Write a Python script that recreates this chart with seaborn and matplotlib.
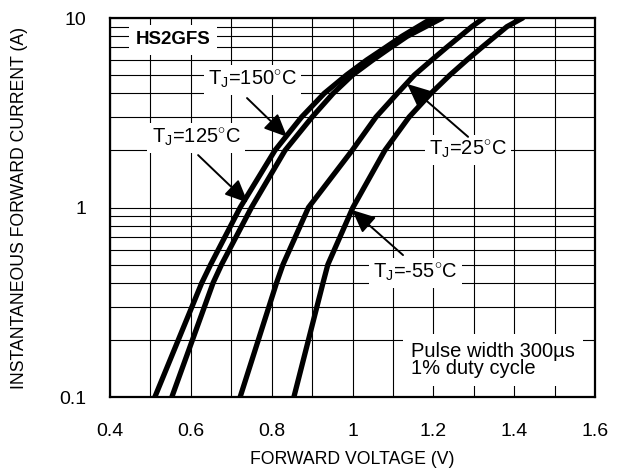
import pandas as pd
import seaborn as sns
import matplotlib.pyplot as plt
import matplotlib.ticker as mticker

# curve data (forward voltage in V, current in A)
v_150 = [0.511, 0.627, 0.649, 0.722, 0.808, 0.874, 0.930, 0.985, 1.035, 1.082, 1.122, 1.198]
i_150 = [0.1, 0.4, 0.5, 1, 2, 3, 4, 5, 6, 7, 8, 10]

v_125 = [0.553, 0.655, 0.676, 0.750, 0.833, 0.900, 0.952, 1.000, 1.050, 1.095, 1.135, 1.222]
i_125 = [0.1, 0.4, 0.5, 1, 2, 3, 4, 5, 6, 7, 8, 10]

v_25 = [0.722, 0.812, 0.828, 0.891, 0.999, 1.058, 1.111, 1.153, 1.196, 1.233, 1.266, 1.295, 1.325]
i_25 = [0.1, 0.4, 0.5, 1, 2, 3, 4, 5, 6, 7, 8, 9, 10]

v_m55 = [0.855, 0.927, 0.939, 1.001, 1.080, 1.140, 1.194, 1.241, 1.283, 1.320, 1.353, 1.382, 1.421]
i_m55 = [0.1, 0.4, 0.5, 1, 2, 3, 4, 5, 6, 7, 8, 9, 10]

x_ticks = [0.4, 0.6, 0.8, 1.0, 1.2, 1.4, 1.6]
x_labels = ["0.4", "0.6", "0.8", "1", "1.2", "1.4", "1.6"]
y_ticks = [0.1, 1, 10]
y_labels = ["0.1", "1", "10"]

# build one long table for seaborn
frames = []
for name, v, i in [("150", v_150, i_150), ("125", v_125, i_125),
                   ("25", v_25, i_25), ("-55", v_m55, i_m55)]:
    frames.append(pd.DataFrame({"voltage": v, "current": i, "temp": name}))
df = pd.concat(frames, ignore_index=True)

sns.set_style("white")
plt.rcParams['font.family'] = ['Liberation Sans', 'DejaVu Sans']
plt.rcParams['mathtext.fontset'] = 'custom'
plt.rcParams['mathtext.rm'] = 'Liberation Sans'
plt.rcParams['mathtext.it'] = 'Liberation Sans'
plt.rcParams['text.color'] = 'black'
plt.rcParams['axes.labelcolor'] = 'black'
plt.rcParams['xtick.color'] = 'black'
plt.rcParams['ytick.color'] = 'black'

fig = plt.figure(figsize=(6.19, 4.73), dpi=100)
ax = fig.add_axes([110/619, 76/473, 485/619, 379/473])

sns.lineplot(data=df, x="voltage", y="current", hue="temp",
             palette={"150": "black", "125": "black", "25": "black", "-55": "black"},
             linewidth=3.8, legend=False, estimator=None, ax=ax)
for ln in ax.lines:
    ln.set_solid_joinstyle("round")

ax.set_yscale("log")
ax.set_xlim(0.4, 1.6)
ax.set_ylim(0.1, 10)

ax.set_xticks(x_ticks)
ax.set_xticklabels(x_labels)
ax.xaxis.set_minor_locator(mticker.MultipleLocator(0.1))
ax.set_yticks(y_ticks)
ax.set_yticklabels(y_labels)
ax.yaxis.set_minor_locator(mticker.LogLocator(base=10, subs=range(2, 10)))
ax.yaxis.set_minor_formatter(mticker.NullFormatter())

ax.tick_params(axis="x", which="both", length=0, pad=19, labelsize=14)
ax.tick_params(axis="y", which="both", length=0, pad=17, labelsize=14)

ax.grid(which="both", color="black", linewidth=0.8)
ax.set_axisbelow(True)
for s in ax.spines.values():
    s.set_visible(True)
    s.set_color("black")
    s.set_linewidth(1.6)

ax.set_xlabel("FORWARD VOLTAGE (V)", fontsize=12.7)
ax.set_ylabel("INSTANTANEOUS FORWARD CURRENT (A)", fontsize=12.7)
ax.xaxis.set_label_coords(0.5, -0.142)
ax.yaxis.set_label_coords(-0.169, 0.5)

white = dict(facecolor="white", edgecolor="none", pad=3)
arrow = dict(arrowstyle="-|>,head_length=1.0,head_width=0.45", color="black",
             lw=1.4, mutation_scale=14, shrinkA=0, shrinkB=0)

ax.text(0.556, 7.66, "HS2GFS", fontsize=13.5, fontweight="bold",
        ha="center", va="center", bbox=dict(facecolor="white", edgecolor="none", pad=5))

ax.text(0.753, 4.71, r"T$_{\mathrm{J}}$=150$^{\circ}$C", fontsize=14.5,
        ha="center", va="center", bbox=white)
ax.annotate("", xy=(0.838, 2.36), xytext=(0.739, 3.78), arrowprops=arrow)

ax.text(0.613, 2.33, r"T$_{\mathrm{J}}$=125$^{\circ}$C", fontsize=14.5,
        ha="center", va="center", bbox=white)
ax.annotate("", xy=(0.741, 1.06), xytext=(0.618, 1.89), arrowprops=arrow)

ax.text(1.286, 2.01, r"T$_{\mathrm{J}}$=25$^{\circ}$C", fontsize=14.5,
        ha="center", va="center", bbox=white)
ax.annotate("", xy=(1.135, 4.49), xytext=(1.286, 2.36), arrowprops=arrow)

ax.text(1.155, 0.451, r"T$_{\mathrm{J}}$=-55$^{\circ}$C", fontsize=14.5,
        ha="center", va="center", bbox=white)
ax.annotate("", xy=(0.999, 0.97), xytext=(1.125, 0.561), arrowprops=arrow)

ax.text(1.145, 0.157, "Pulse width 300µs\n1% duty cycle", fontsize=14.5,
        ha="left", va="center", linespacing=0.85,
        bbox=dict(facecolor="white", edgecolor="none", pad=6))

fig.savefig("out.png", dpi=100)
